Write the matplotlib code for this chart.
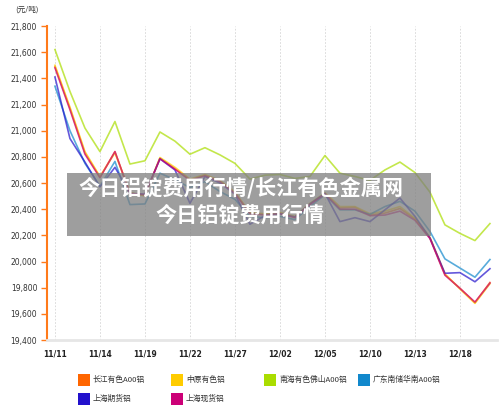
import matplotlib
matplotlib.use("Agg")
import matplotlib.pyplot as plt
from matplotlib.patches import Rectangle

plt.rcParams['font.family'] = ['Noto Sans CJK SC', 'DejaVu Sans']

# trading days 11/11 - 12/20
dates = ['11/11', '11/12', '11/13', '11/14', '11/15', '11/18', '11/19', '11/20',
         '11/21', '11/22', '11/25', '11/26', '11/27', '11/28', '11/29', '12/02',
         '12/03', '12/04', '12/05', '12/06', '12/09', '12/10', '12/11', '12/12',
         '12/13', '12/16', '12/17', '12/18', '12/19', '12/20']

changjiang = [21490, 21170, 20830, 20645, 20840, 20520, 20510, 20790, 20710, 20625,
              20660, 20615, 20525, 20370, 20360, 20370, 20340, 20440, 20520, 20410,
              20415, 20355, 20370, 20405, 20325, 20180, 19900, 19795, 19685, 19840]
zhongyuan = [21500, 21180, 20840, 20650, 20830, 20530, 20500, 20795, 20720, 20630,
             20665, 20620, 20530, 20375, 20365, 20375, 20345, 20445, 20525, 20420,
             20420, 20365, 20385, 20420, 20330, 20185, 19905, 19790, 19680, 19830]
nanhai = [21620, 21300, 21020, 20840, 21070, 20745, 20770, 20990, 20920, 20820,
          20870, 20815, 20750, 20630, 20660, 20665, 20635, 20650, 20810, 20675,
          20650, 20620, 20700, 20760, 20680, 20530, 20280, 20215, 20160, 20290]
guangdong = [21340, 21000, 20750, 20575, 20765, 20435, 20440, 20675, 20625, 20565,
             20610, 20535, 20475, 20345, 20335, 20345, 20320, 20420, 20510, 20395,
             20395, 20360, 20420, 20460, 20385, 20230, 20020, 19950, 19880, 20015]
shfe = [21410, 20940, 20760, 20570, 20720, 20520, 20515, 20785, 20700, 20445,
        20650, 20600, 20515, 20285, 20350, 20365, 20340, 20440, 20520, 20305,
        20335, 20305, 20395, 20485, 20345, 20180, 19910, 19915, 19845, 19945]
shspot = [21480, 21160, 20820, 20640, 20840, 20520, 20510, 20785, 20705, 20620,
          20655, 20610, 20520, 20365, 20355, 20365, 20335, 20435, 20515, 20400,
          20400, 20350, 20355, 20385, 20315, 20175, 19895, 19795, 19690, 19835]

names = ['长江有色A00铝', '中原有色铝', '南海有色佛山A00铝', '广东南储华南A00铝',
         '上海期货铝', '上海现货铝']
series = [changjiang, zhongyuan, nanhai, guangdong, shfe, shspot]
colors = ['#ff6600', '#ffcc00', '#aadd00', '#1188cc', '#2211cc', '#cc0077']

yticks = list(range(19400, 21801, 200))

fig = plt.figure(figsize=(5.0, 4.09), dpi=100)
ax = fig.add_axes([0.094, 0.1687, 0.9, 0.7677])

x = list(range(len(dates)))
for vals, c in zip(series, colors):
    ax.plot(x, vals, color=c, lw=1.2, alpha=0.7)

ax.set_xlim(-0.53, 29.47)
ax.set_ylim(19400, 21800)
ax.set_yticks(yticks)
ax.set_yticklabels([f'{v:,}' for v in yticks], fontsize=5.5, color='#333333',
                   family='DejaVu Sans')
ax.set_xticks(x[::3])
ax.set_xticklabels(dates[::3], fontsize=5.5, color='#222222', family='DejaVu Sans',
                   fontweight='bold')
ax.tick_params(axis='y', length=4, width=1, color='#ff7a1a', pad=3)
ax.tick_params(axis='x', length=0, pad=7)
ax.grid(axis='x', color='#d5d5d5', ls=(0, (2, 2)), lw=0.6)
for s in ['top', 'right']:
    ax.spines[s].set_visible(False)
ax.spines['left'].set_color('#ff7a1a')
ax.spines['left'].set_linewidth(1.5)
ax.spines['bottom'].set_color('#e6e6e6')
ax.spines['bottom'].set_linewidth(2)

fig.text(15 / 500, 1 - 10 / 409, '(元/吨)', fontsize=5.5, color='#333333',
         va='center', ha='left')

# overlay banner
W, H = 500, 409
fig.add_artist(Rectangle((67 / W, 1 - 236 / H), (431 - 67) / W, (236 - 173) / H,
                         transform=fig.transFigure, facecolor='#7e7e7e',
                         alpha=0.75, edgecolor='none', zorder=5))
fig.text(241 / W, 1 - 188 / H, '今日铝锭费用行情/长江有色金属网', fontsize=15.2,
         color='white', fontweight='heavy', ha='center', va='center', zorder=6)
fig.text(240 / W, 1 - 215 / H, '今日铝锭费用行情', fontsize=15.2,
         color='white', fontweight='heavy', ha='center', va='center', zorder=6)

# legend
cols = [78, 171, 264, 358]
rows = [380, 399]
for k, (nm, c) in enumerate(zip(names, colors)):
    cx = cols[k % 4]
    cy = rows[k // 4]
    fig.add_artist(Rectangle((cx / W, 1 - (cy + 6) / H), 12 / W, 12 / H,
                             transform=fig.transFigure, facecolor=c,
                             edgecolor='none'))
    fig.text((cx + 15) / W, 1 - cy / H, nm, fontsize=5.6, color='#333333',
             va='center', ha='left')

fig.savefig('out.png', dpi=100)
